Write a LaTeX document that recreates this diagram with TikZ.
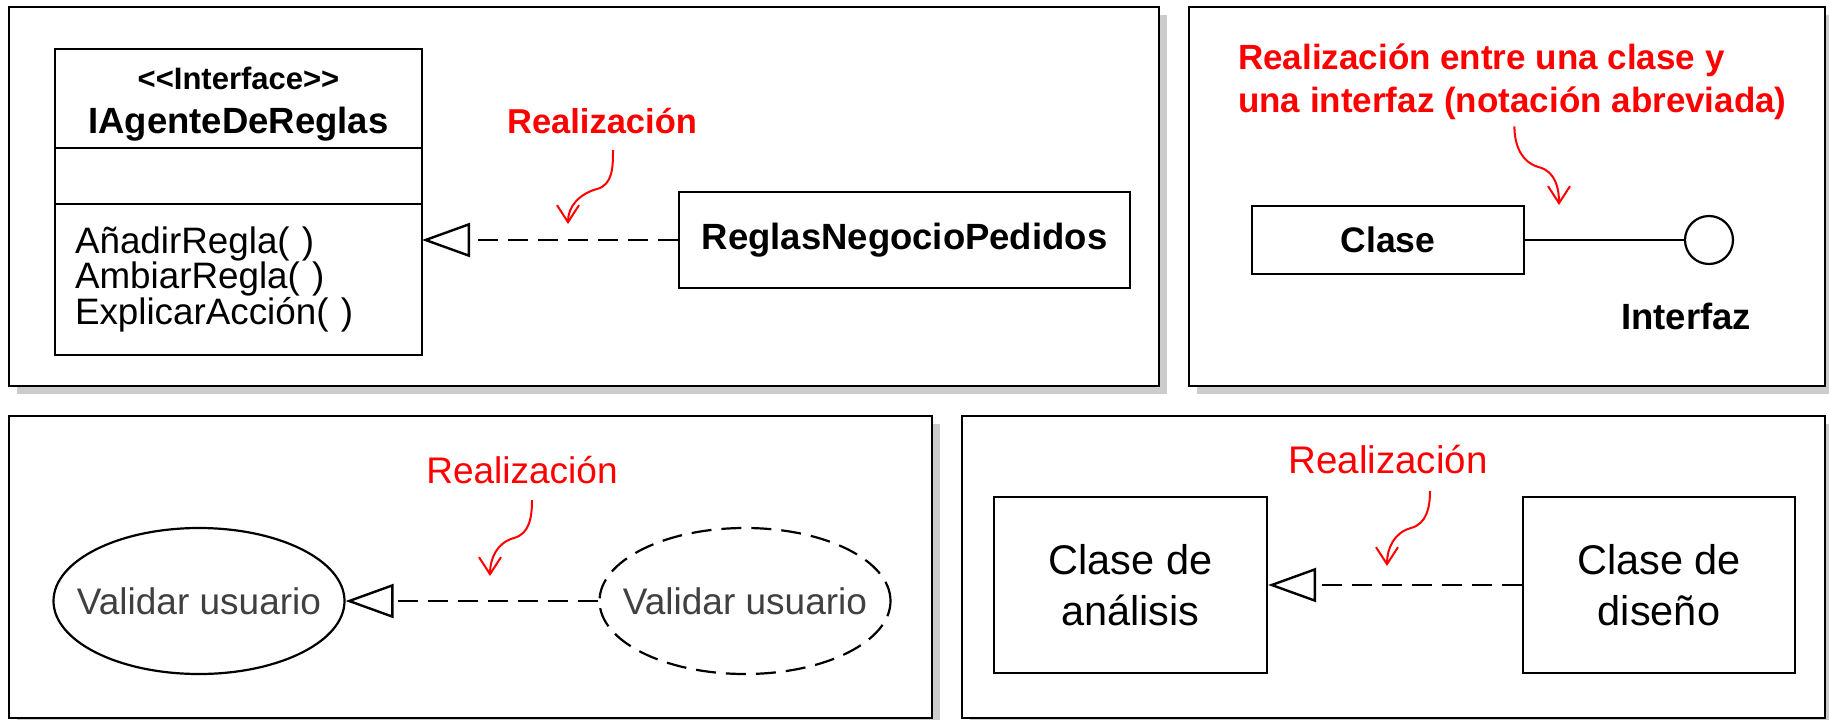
\documentclass[tikz,border=0pt]{standalone}
\usepackage{fontspec}
\setmainfont{Liberation Sans}
\usetikzlibrary{arrows.meta,positioning,shapes.geometric,shadows}
\definecolor{ucgray}{HTML}{404040}

\begin{document}
\begin{tikzpicture}[
  x=1pt, y=-1pt,
  panel/.style={draw, line width=2.3pt, fill=white, inner sep=0pt, drop shadow={shadow xshift=8pt, shadow yshift=-8pt, fill=black!20, opacity=1}},
  umlbox/.style={draw, line width=2.2pt, inner sep=0pt, outer sep=0pt, minimum width=367pt},
  cls/.style={draw, line width=2.2pt, align=center, inner sep=0pt},
  usecase/.style={draw, ellipse, line width=2.2pt, minimum width=291pt, minimum height=146pt, inner xsep=-21pt, inner ysep=0pt, text=ucgray, font=\fontsize{37}{44}\selectfont},
  realiz/.style={-{Triangle[open, length=48pt, width=34pt]}, line width=2.4pt, dash pattern=on 20pt off 10pt},
  note/.style={red, anchor=base, inner sep=0pt},
  curly/.style={-{Straight Barb[length=17pt, width=22pt]}, red, line width=2pt},
  big/.style={font=\fontsize{36.5}{40}\selectfont\bfseries}]
\path[fill=white, use as bounding box] (0,0) rectangle (1829,720);
\node[panel, minimum width=1150pt, minimum height=379pt] (p1) at (584,196.5) {};
\node[panel, minimum width=636pt, minimum height=379pt] (p2) at (1507,196.5) {};
\node[panel, minimum width=923pt, minimum height=302pt] (p3) at (470.5,567) {};
\node[panel, minimum width=863pt, minimum height=302pt] (p4) at (1393.5,567) {};
\node[umlbox, minimum height=99pt] (ihead) at (238.5,98.5) {};
\node[umlbox, minimum height=56pt, below=0pt of ihead] (iattr) {};
\node[umlbox, minimum height=151pt, below=0pt of iattr, text width=327pt, inner xsep=20pt, align=left, font=\fontsize{36.8}{33.5}\selectfont] (imeth) {AñadirRegla( )\\AmbiarRegla( )\\ExplicarAcción( )};
\node[anchor=base, font=\fontsize{31}{32}\selectfont\bfseries] (stereo) at (238.5,89) {{<}{<}Interface{>}{>}};
\node[anchor=base, big] (iname) at (238.5,133) {IAgenteDeReglas};
\node[cls, big, minimum width=451pt, minimum height=96pt] (reglas) at (904.5,240) {ReglasNegocioPedidos};
\draw[realiz] (reglas.west) -- (reglas.west -| imeth.east);
\node[note, font=\fontsize{34.5}{40}\selectfont\bfseries] (real1) at (602,133) {Realización};
\coordinate (tip1) at (568,224);
\draw[curly] ([xshift=11pt,yshift=-17pt]real1.base) to[out=-90,in=15] ++(-16,39) to[out=195,in=90] (tip1);
\node[note, anchor=north west, align=left, font=\fontsize{35}{43}\selectfont\bfseries] (title) at (1238,44) {Realización entre una clase y\\una interfaz (notación abreviada)};
\node[cls, font=\fontsize{35.5}{40}\selectfont\bfseries, minimum width=272pt, minimum height=68pt] (clase) at (1388,240) {Clase};
\node[draw, circle, line width=2.2pt, minimum size=48pt, inner sep=0pt] (iface) at (1709,240) {};
\draw[line width=2.2pt] (clase) -- (iface);
\node[anchor=base, big] (ifacename) at (1686,329) {Interfaz};
\coordinate (tip2) at (1559,205);
\draw[curly] ([xshift=2pt,yshift=-6pt]title.south) to[out=-90,in=165] ++(25,41) to[out=-15,in=90] (tip2);
\node[usecase] (uc1) at (199,601) {Validar usuario};
\node[usecase, dash pattern=on 20pt off 10pt] (uc2) at (745,601) {Validar usuario};
\draw[realiz] (uc2) -- (uc1);
\node[note, font=\fontsize{37}{44}\selectfont] (real3) at (522,483) {Realización};
\coordinate (tip3) at (490,576);
\draw[curly] ([xshift=10pt,yshift=-17pt]real3.base) to[out=-90,in=15] ++(-18,38) to[out=195,in=90] (tip3);
\node[cls, font=\fontsize{41.5}{51}\selectfont, minimum width=273pt, minimum height=176pt] (analisis) at (1130.5,585) {Clase de\\análisis};
\node[cls, font=\fontsize{41.5}{51}\selectfont, minimum width=272pt, minimum height=176pt] (diseno) at (1659,585) {Clase de\\diseño};
\draw[realiz] (diseno) -- (analisis);
\node[note, font=\fontsize{38.5}{44}\selectfont] (real4) at (1388,473) {Realización};
\coordinate (tip4) at (1387,566);
\draw[curly] ([xshift=42pt,yshift=-18pt]real4.base) to[out=-90,in=15] ++(-19,37) to[out=195,in=90] (tip4);
\end{tikzpicture}
\end{document}
